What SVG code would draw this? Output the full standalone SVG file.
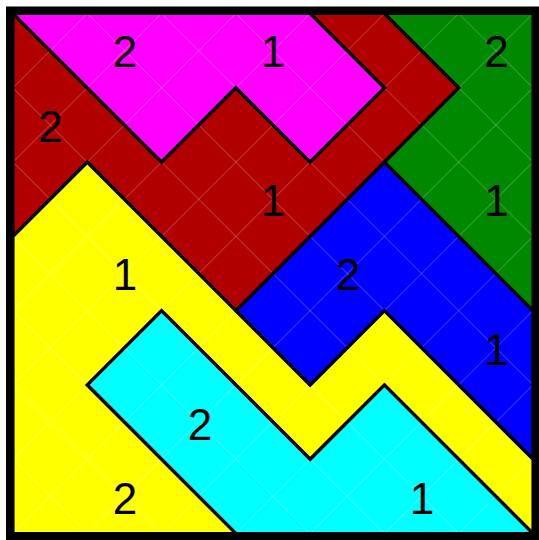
<svg xmlns="http://www.w3.org/2000/svg" xmlns:xlink="http://www.w3.org/1999/xlink" width="539" height="540" viewBox="0 0 539 540">
  <style>
    .lbl { font-family: "Liberation Sans", Arial, sans-serif; font-size: 44px; fill: #000; text-anchor: middle; }
    .grid line { stroke: #ffffff; stroke-opacity: 0.22; stroke-width: 0.0135; }
    .edge { fill: none; stroke: #000; stroke-width: 0.042; stroke-linejoin: miter; }
  </style>
  <defs>
    <polygon id="pm" points="0,0 4,0 5,1 4,2 3,1 2,2"/>
    <polygon id="pr" points="0,0 2,2 3,1 4,2 5,1 4,0 5,0 6,1 5,2 3,4 1,2 0,3"/>
    <polygon id="pg" points="5,0 7,0 7,4 5,2 6,1"/>
    <polygon id="pb" points="5,2 7,4 7,6 5,4 4,5 3,4"/>
    <polygon id="py" points="0,3 1,2 3,4 4,5 5,4 7,6 7,7 5,5 4,6 2,4 1,5 3,7 0,7"/>
    <polygon id="pc" points="2,4 4,6 5,5 7,7 3,7 1,5"/>
  </defs>
  <rect x="0" y="0" width="539" height="540" fill="#ffffff"/>
  <g transform="translate(13,13.5) scale(74.2857)">
    <g id="region-magenta"><use xlink:href="#pm" fill="#ff00ff"/></g>
    <g id="region-red"><use xlink:href="#pr" fill="#b00000"/></g>
    <g id="region-green"><use xlink:href="#pg" fill="#008800"/></g>
    <g id="region-blue"><use xlink:href="#pb" fill="#0000ff"/></g>
    <g id="region-yellow"><use xlink:href="#py" fill="#ffff00"/></g>
    <g id="region-cyan"><use xlink:href="#pc" fill="#00ffff"/></g>
    <g class="grid">
      <line x1="0" y1="6" x2="1" y2="7"/>
      <line x1="0" y1="5" x2="2" y2="7"/>
      <line x1="0" y1="4" x2="3" y2="7"/>
      <line x1="0" y1="3" x2="4" y2="7"/>
      <line x1="0" y1="2" x2="5" y2="7"/>
      <line x1="0" y1="1" x2="6" y2="7"/>
      <line x1="0" y1="0" x2="7" y2="7"/>
      <line x1="1" y1="0" x2="7" y2="6"/>
      <line x1="2" y1="0" x2="7" y2="5"/>
      <line x1="3" y1="0" x2="7" y2="4"/>
      <line x1="4" y1="0" x2="7" y2="3"/>
      <line x1="5" y1="0" x2="7" y2="2"/>
      <line x1="6" y1="0" x2="7" y2="1"/>
      <line x1="1" y1="0" x2="0" y2="1"/>
      <line x1="2" y1="0" x2="0" y2="2"/>
      <line x1="3" y1="0" x2="0" y2="3"/>
      <line x1="4" y1="0" x2="0" y2="4"/>
      <line x1="5" y1="0" x2="0" y2="5"/>
      <line x1="6" y1="0" x2="0" y2="6"/>
      <line x1="7" y1="0" x2="0" y2="7"/>
      <line x1="7" y1="1" x2="1" y2="7"/>
      <line x1="7" y1="2" x2="2" y2="7"/>
      <line x1="7" y1="3" x2="3" y2="7"/>
      <line x1="7" y1="4" x2="4" y2="7"/>
      <line x1="7" y1="5" x2="5" y2="7"/>
      <line x1="7" y1="6" x2="6" y2="7"/>
    </g>
    <g id="connectors">
      <use xlink:href="#pm" class="edge"/>
      <use xlink:href="#pr" class="edge"/>
      <use xlink:href="#pg" class="edge"/>
      <use xlink:href="#pb" class="edge"/>
      <use xlink:href="#py" class="edge"/>
      <use xlink:href="#pc" class="edge"/>
    </g>
  </g>
  <rect id="frame" x="9.5" y="10" width="527" height="527" fill="none" stroke="#000" stroke-width="7"/>
  <g id="labels">
    <text class="lbl" x="125" y="67">2</text>
    <text class="lbl" x="273" y="67">1</text>
    <text class="lbl" x="496.5" y="67">2</text>
    <text class="lbl" x="50.5" y="142">2</text>
    <text class="lbl" x="273" y="216">1</text>
    <text class="lbl" x="496.5" y="216">1</text>
    <text class="lbl" x="125" y="290">1</text>
    <text class="lbl" x="348" y="290">2</text>
    <text class="lbl" x="496.5" y="365">1</text>
    <text class="lbl" x="200" y="440">2</text>
    <text class="lbl" x="125" y="514">2</text>
    <text class="lbl" x="422" y="514">1</text>
  </g>
</svg>
